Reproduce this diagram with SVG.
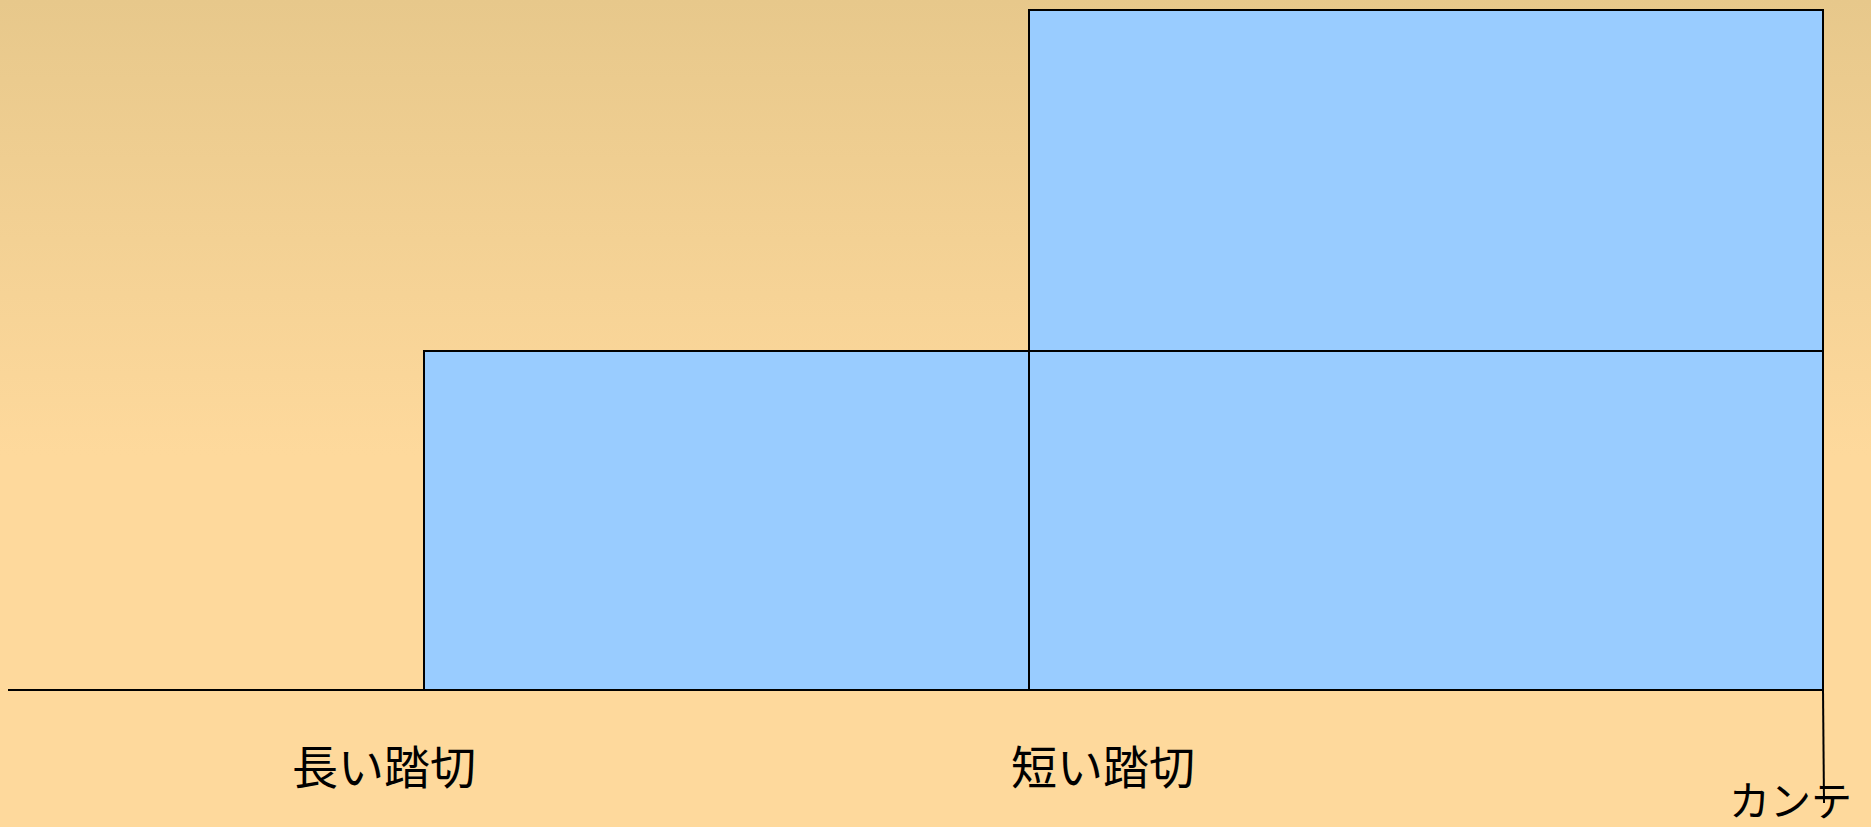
<svg xmlns="http://www.w3.org/2000/svg" width="1871" height="827" viewBox="0 0 1871 827">
<defs>
<linearGradient id="bg" x1="0" y1="0" x2="0" y2="1">
<stop offset="0" stop-color="#E7C88B"/>
<stop offset="0.55" stop-color="#FED99C"/>
<stop offset="1" stop-color="#FED99C"/>
</linearGradient>
</defs>
<style>
.box{fill:#99CCFF;stroke:#000;stroke-width:2}
.ln{stroke:#000;stroke-width:2;fill:none}
.lbl{font-family:"Noto Sans CJK JP","Noto Sans CJK SC",sans-serif;font-size:46px;fill:#000}
</style>
<rect x="0" y="0" width="1871" height="827" fill="url(#bg)"/>
<g id="connectors">
<line class="ln" x1="8" y1="690" x2="424" y2="690"/>
<line class="ln" x1="1823" y1="690" x2="1824" y2="803"/>
</g>
<g id="long"><rect class="box" x="424" y="351" width="605" height="339"/></g>
<g id="short-low"><rect class="box" x="1029" y="351" width="794" height="339"/></g>
<g id="short-high"><rect class="box" x="1029" y="10" width="794" height="341"/></g>
<g id="labels">
<text class="lbl" x="292" y="784">長い踏切</text>
<text class="lbl" x="1011" y="784">短い踏切</text>
<text class="lbl" x="1729" y="816" style="font-size:41px">カンテ</text>
</g>
</svg>
